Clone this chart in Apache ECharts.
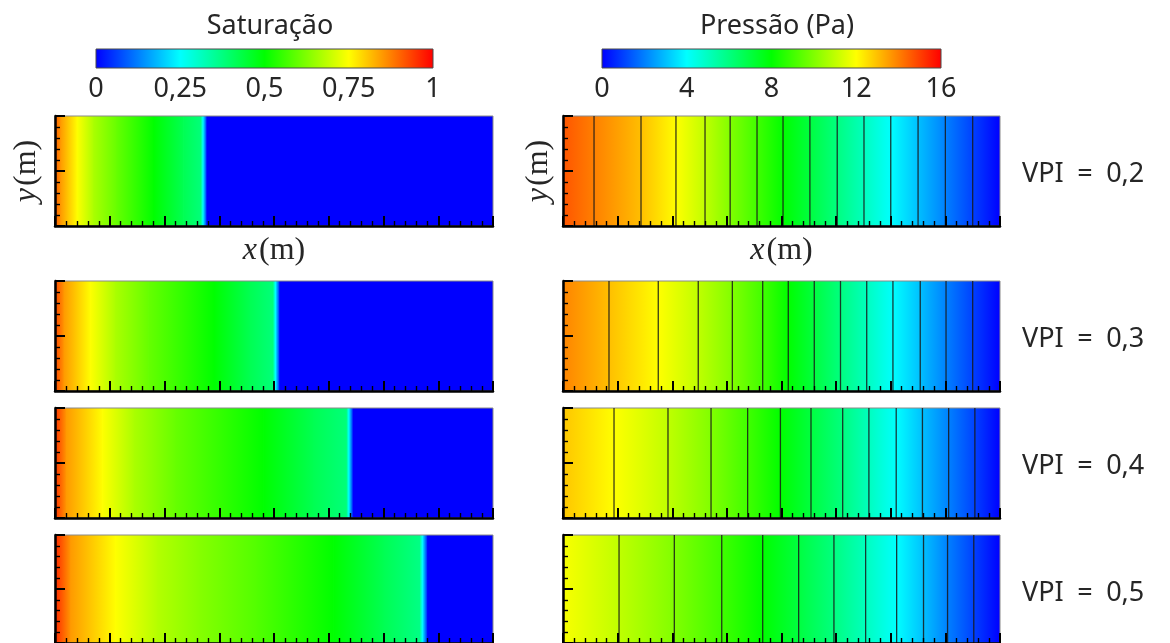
<!DOCTYPE html>
<html>
<head>
<meta charset="utf-8">
<script src="https://cdn.jsdelivr.net/npm/echarts@6/dist/echarts.min.js"></script>
<style>
  html, body { margin: 0; padding: 0; background: #ffffff; }
  #chart { width: 1170px; height: 643px; }
</style>
</head>
<body>
<div id="chart"></div>
<script>
// Water injection along a 4 m x 1 m reservoir: saturation and pressure fields
// at four injected pore volumes (VPI).

const vpiLabels = ['0,2', '0,3', '0,4', '0,5'];

// Saturation profiles along x (m): sample positions and saturation values
const satX_02 = [0, 0.05, 0.2, 0.35, 0.56, 0.9, 1.17, 1.33, 1.385, 4.0];
const satS_02 = [0.91, 0.85, 0.75, 0.667, 0.6, 0.5, 0.42, 0.38, 0.0, 0.0];

const satX_03 = [0, 0.08, 0.32, 0.55, 0.85, 1.45, 1.78, 1.99, 2.05, 4.0];
const satS_03 = [0.93, 0.85, 0.75, 0.667, 0.6, 0.5, 0.42, 0.38, 0.0, 0.0];

const satX_04 = [0, 0.1, 0.43, 0.72, 1.1, 1.9, 2.36, 2.66, 2.72, 4.0];
const satS_04 = [0.95, 0.85, 0.75, 0.667, 0.6, 0.5, 0.42, 0.38, 0.0, 0.0];

const satX_05 = [0, 0.14, 0.55, 0.93, 1.32, 1.84, 2.54, 3.0, 3.33, 3.40, 4.0];
const satS_05 = [0.96, 0.85, 0.75, 0.676, 0.63, 0.58, 0.5, 0.42, 0.37, 0.0, 0.0];

// Pressure (Pa): inlet value, isobar levels and the x (m) where each isobar sits.
// Outlet pressure is 0 Pa at x = 4 m.
const presInlet_02 = 14.66;
const presLevels_02 = [14, 13, 12, 11, 10, 9, 8, 7, 6, 5, 4, 3, 2, 1];
const presIsoX_02 = [0.284, 0.714, 1.034, 1.30, 1.53, 1.776, 2.014, 2.26, 2.51, 2.755, 3.00, 3.25, 3.50, 3.75];

const presInlet_03 = 13.93;
const presLevels_03 = [13, 12, 11, 10, 9, 8, 7, 6, 5, 4, 3, 2, 1];
const presIsoX_03 = [0.421, 0.872, 1.238, 1.55, 1.828, 2.062, 2.30, 2.54, 2.78, 3.02, 3.27, 3.506, 3.75];

const presInlet_04 = 12.9;
const presLevels_04 = [12, 11, 10, 9, 8, 7, 6, 5, 4, 3, 2, 1];
const presIsoX_04 = [0.467, 0.961, 1.355, 1.69, 1.99, 2.27, 2.56, 2.80, 3.05, 3.29, 3.53, 3.77];

const presInlet_05 = 11.9;
const presLevels_05 = [11, 10, 9, 8, 7, 6, 5, 4, 3, 2, 1];
const presIsoX_05 = [0.513, 1.019, 1.453, 1.828, 2.157, 2.48, 2.77, 3.054, 3.30, 3.52, 3.76];

// Colour bar ranges and tick labels
const satRange = [0, 1];
const satTickStep = 0.25;
const presRange = [0, 16];
const presTickStep = 4;

const LENGTH = 4;   // m
const HEIGHT = 1;   // m

// Rainbow colour map (blue - cyan - green - yellow - red)
const CMAP = [
  [0.00, [0, 0, 255]],
  [0.25, [0, 255, 255]],
  [0.50, [0, 255, 0]],
  [0.75, [255, 255, 0]],
  [1.00, [255, 0, 0]]
];

function cmap(t) {
  t = Math.max(0, Math.min(1, t));
  for (let i = 1; i < CMAP.length; i++) {
    if (t <= CMAP[i][0]) {
      const a = CMAP[i - 1], b = CMAP[i];
      const f = (t - a[0]) / (b[0] - a[0]);
      const c = a[1].map((v, k) => Math.round(v + (b[1][k] - v) * f));
      return 'rgb(' + c.join(',') + ')';
    }
  }
  return 'rgb(255,0,0)';
}

// Colour stops for a linear variation from t0 to t1, with every colour-map knot in between
function stopsBetween(t0, t1) {
  const stops = [{ offset: 0, color: cmap(t0) }];
  if (t1 !== t0) {
    CMAP.forEach(([k]) => {
      if (k > Math.min(t0, t1) && k < Math.max(t0, t1)) {
        stops.push({ offset: (k - t0) / (t1 - t0), color: cmap(k) });
      }
    });
  }
  stops.push({ offset: 1, color: cmap(t1) });
  stops.sort((a, b) => a.offset - b.offset);
  return stops;
}

// Segments [x0, x1, v0, v1] of a piecewise-linear profile
function segments(xs, vs) {
  const out = [];
  for (let i = 0; i < xs.length - 1; i++) out.push([xs[i], xs[i + 1], vs[i], vs[i + 1]]);
  return out;
}

function presProfile(inlet, levels, isoX) {
  return {
    x: [0].concat(isoX, [LENGTH]),
    v: [inlet].concat(levels, [0])
  };
}

const satRows = [
  segments(satX_02, satS_02),
  segments(satX_03, satS_03),
  segments(satX_04, satS_04),
  segments(satX_05, satS_05)
];

const presData = [
  [presInlet_02, presLevels_02, presIsoX_02],
  [presInlet_03, presLevels_03, presIsoX_03],
  [presInlet_04, presLevels_04, presIsoX_04],
  [presInlet_05, presLevels_05, presIsoX_05]
];
const presRows = presData.map(([p0, lv, xs]) => {
  const p = presProfile(p0, lv, xs);
  return segments(p.x, p.v);
});
const isobarRows = presData.map(([, lv, xs]) => xs.map((x, i) => [x, lv[i]]));

// Field renderer: each segment is a full-height strip with a graded fill
function fieldRenderer(vmax) {
  return function (params, api) {
    const x0 = api.value(0), x1 = api.value(1);
    const v0 = api.value(2) / vmax, v1 = api.value(3) / vmax;
    const pTop = api.coord([x0, HEIGHT]);
    const pBot = api.coord([x1, 0]);
    const last = params.dataIndex === params.dataInsideLength - 1;
    return {
      type: 'rect',
      shape: {
        x: pTop[0],
        y: pTop[1],
        width: pBot[0] - pTop[0] + (last ? 0 : 0.8),
        height: pBot[1] - pTop[1]
      },
      style: { fill: new echarts.graphic.LinearGradient(0, 0, 1, 0, stopsBetween(v0, v1)) }
    };
  };
}

function isobarRenderer(params, api) {
  const a = api.coord([api.value(0), 0]);
  const b = api.coord([api.value(0), HEIGHT]);
  return {
    type: 'line',
    shape: { x1: a[0], y1: a[1], x2: b[0], y2: b[1] },
    style: { stroke: 'rgba(25,25,25,0.85)', lineWidth: 1.3 }
  };
}

function colorbarRenderer(params, api) {
  const a = api.coord([api.value(0), 1]);
  const b = api.coord([api.value(1), 0]);
  return {
    type: 'rect',
    shape: { x: a[0], y: a[1], width: b[0] - a[0], height: b[1] - a[1] },
    style: { fill: new echarts.graphic.LinearGradient(0, 0, 1, 0, stopsBetween(0, 1)) }
  };
}

// Layout
const TEXT = '#262626';
const SANS = "'Noto Sans', 'Open Sans', sans-serif";
const SERIF = "'Liberation Serif', 'DejaVu Serif', serif";
const rowTops = [116, 281, 408, 535];
const panelH = 110;
const leftX = 55, leftW = 438;
const rightX = 563, rightW = 437;

const grids = [];
const xAxes = [];
const yAxes = [];
const series = [];

function panelAxes(gridIndex, showXName, yNameGap) {
  const tick = { show: true, inside: true, length: 10, lineStyle: { color: '#000', width: 2 } };
  const minor = { show: true, splitNumber: 5, length: 5, lineStyle: { color: '#000', width: 1.4 } };
  const line = { show: true, onZero: false, lineStyle: { color: '#000', width: 2.5 } };
  const nameStyle = {
    fontFamily: SERIF, fontSize: 32, color: TEXT,
    rich: { i: { fontFamily: SERIF, fontStyle: 'italic', fontSize: 32, color: TEXT, padding: [0, 2, 0, 0] } }
  };
  xAxes.push({
    type: 'value', gridIndex, min: 0, max: LENGTH, interval: 0.5, z: 5,
    axisLine: line, axisTick: tick, minorTick: minor,
    axisLabel: { show: false }, splitLine: { show: false }, minorSplitLine: { show: false },
    name: showXName ? '{i|x}(m)' : '', nameLocation: 'middle', nameGap: 9,
    nameTextStyle: Object.assign({ verticalAlign: 'top' }, nameStyle)
  });
  yAxes.push({
    type: 'value', gridIndex, min: 0, max: HEIGHT, interval: 0.5, z: 5,
    axisLine: line, axisTick: tick, minorTick: minor,
    axisLabel: { show: false }, splitLine: { show: false }, minorSplitLine: { show: false },
    name: yNameGap !== null ? '{i|y}(m)' : '', nameLocation: 'middle', nameGap: yNameGap || 0,
    nameRotate: 90, nameTextStyle: nameStyle
  });
}

for (let r = 0; r < 4; r++) {
  // saturation panel
  grids.push({ left: leftX, top: rowTops[r], width: leftW, height: panelH,
    show: true, borderColor: '#8a8a8a', borderWidth: 1, backgroundColor: 'transparent', z: 3 });
  panelAxes(grids.length - 1, r === 0, r === 0 ? 12 : null);
  series.push({
    type: 'custom', name: 'Saturação VPI ' + vpiLabels[r], coordinateSystem: 'cartesian2d',
    xAxisIndex: grids.length - 1, yAxisIndex: grids.length - 1,
    data: satRows[r], encode: { x: [0, 1] },
    renderItem: fieldRenderer(satRange[1]), silent: true, clip: true
  });
}
for (let r = 0; r < 4; r++) {
  // pressure panel with isobars
  grids.push({ left: rightX, top: rowTops[r], width: rightW, height: panelH,
    show: true, borderColor: '#8a8a8a', borderWidth: 1, backgroundColor: 'transparent', z: 3 });
  panelAxes(grids.length - 1, r === 0, r === 0 ? 8 : null);
  series.push({
    type: 'custom', name: 'Pressão VPI ' + vpiLabels[r], coordinateSystem: 'cartesian2d',
    xAxisIndex: grids.length - 1, yAxisIndex: grids.length - 1,
    data: presRows[r], encode: { x: [0, 1] },
    renderItem: fieldRenderer(presRange[1]), silent: true, clip: true
  });
  series.push({
    type: 'custom', name: 'Isobaras VPI ' + vpiLabels[r], coordinateSystem: 'cartesian2d',
    xAxisIndex: grids.length - 1, yAxisIndex: grids.length - 1,
    data: isobarRows[r], encode: { x: 0 }, z: 3,
    renderItem: isobarRenderer, silent: true
  });
}

// Colour bars
function colorbar(left, width, range, step) {
  grids.push({ left, top: 49, width, height: 19,
    show: true, borderColor: '#4a4a4a', borderWidth: 1, backgroundColor: 'transparent', z: 3 });
  const gi = grids.length - 1;
  xAxes.push({
    type: 'value', gridIndex: gi, min: range[0], max: range[1], interval: step,
    axisLine: { show: false }, axisTick: { show: false }, splitLine: { show: false },
    axisLabel: {
      margin: 8, fontFamily: SANS, fontSize: 27, color: TEXT,
      formatter: v => String(v).replace('.', ',')
    }
  });
  yAxes.push({ type: 'value', gridIndex: gi, min: 0, max: 1, show: false });
  series.push({
    type: 'custom', coordinateSystem: 'cartesian2d', xAxisIndex: gi, yAxisIndex: gi,
    data: [[range[0], range[1]]], encode: { x: [0, 1] },
    renderItem: colorbarRenderer, silent: true
  });
}
colorbar(96, 337, satRange, satTickStep);
colorbar(602, 339, presRange, presTickStep);

const graphics = [
  { type: 'text', x: 270, y: 26, style: { text: 'Saturação', font: '27px ' + SANS, fill: TEXT, textAlign: 'center', textVerticalAlign: 'middle' } },
  { type: 'text', x: 777, y: 26, style: { text: 'Pressão (Pa)', font: '27px ' + SANS, fill: TEXT, textAlign: 'center', textVerticalAlign: 'middle' } }
];
vpiLabels.forEach((lab, r) => {
  graphics.push({
    type: 'text', x: 1022, y: rowTops[r] + panelH / 2 + 3,
    style: { text: 'VPI\u2002=\u2002' + lab, font: '27px ' + SANS, fill: TEXT, textAlign: 'left', textVerticalAlign: 'middle' }
  });
});

const chart = echarts.init(document.getElementById('chart'), null, { renderer: 'canvas' });
chart.setOption({
  animation: false,
  backgroundColor: '#ffffff',
  grid: grids,
  xAxis: xAxes,
  yAxis: yAxes,
  series: series,
  graphic: graphics
});
</script>
</body>
</html>
